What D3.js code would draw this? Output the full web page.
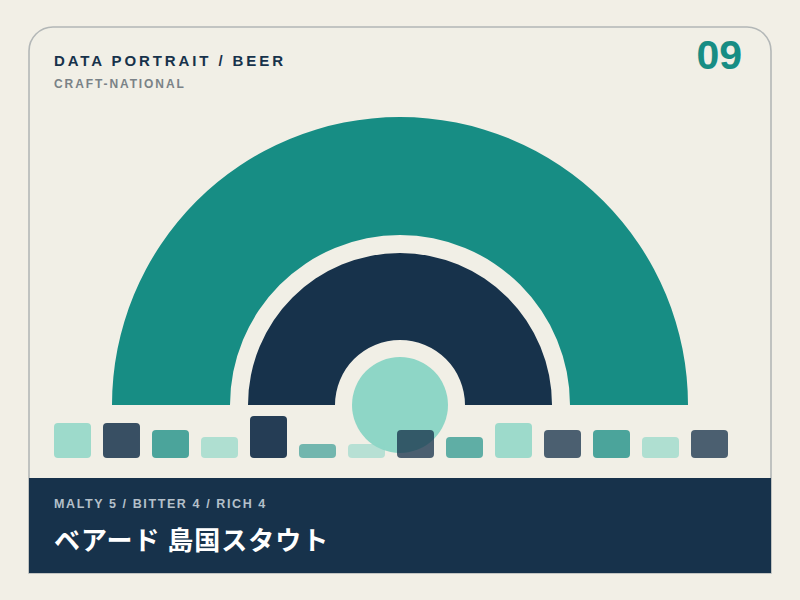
<!DOCTYPE html>
<html>
<head>
<meta charset="utf-8">
<script src="https://cdn.jsdelivr.net/npm/d3@7/dist/d3.min.js"></script>
<style>
  html, body { margin: 0; padding: 0; background: #f2efe6; }
  svg { display: block; }
</style>
</head>
<body>
<svg id="chart" width="800" height="600"></svg>
<script>
// ---- data ----
const titleText = "DATA PORTRAIT / BEER";
const categoryText = "CRAFT-NATIONAL";
const issueNumber = "09";
const attrNames = ["MALTY", "BITTER", "RICH"];
const attrValues = [5, 4, 4];
const beerName = "ベアード 島国スタウト";
const barValues = [5, 5, 4, 3, 6, 2, 2, 4, 3, 5, 4, 4, 3, 4];

// ---- palette / layout ----
const cream = "#f2efe6";
const navy = "#17324b";
const teal = "#178d84";
const mint = "#8ed6c6";
const barPalette = [mint, navy, teal];

const W = 800, H = 600;
const svg = d3.select("#chart");
svg.append("rect").attr("width", W).attr("height", H).attr("fill", cream);

// card
const card = { x: 29, y: 27, w: 742, h: 546, r: 24 };
const cardPath = d3.path();
cardPath.moveTo(card.x, card.y + card.h);
cardPath.lineTo(card.x, card.y + card.r);
cardPath.arcTo(card.x, card.y, card.x + card.r, card.y, card.r);
cardPath.lineTo(card.x + card.w - card.r, card.y);
cardPath.arcTo(card.x + card.w, card.y, card.x + card.w, card.y + card.r, card.r);
cardPath.lineTo(card.x + card.w, card.y + card.h);
cardPath.closePath();
svg.append("path").attr("d", cardPath.toString())
  .attr("fill", "#f1efe6").attr("stroke", "#b3b7b7").attr("stroke-width", 1.6);

// header text
svg.append("text").attr("x", 54).attr("y", 65.5)
  .attr("font-family", "'Liberation Sans', Arial, sans-serif")
  .attr("font-weight", 700).attr("font-size", 15).attr("letter-spacing", 2.9)
  .attr("fill", navy).text(titleText);
svg.append("text").attr("x", 54).attr("y", 88)
  .attr("font-family", "'Liberation Sans', Arial, sans-serif")
  .attr("font-weight", 700).attr("font-size", 12).attr("letter-spacing", 1.9)
  .attr("fill", "#7a8287").text(categoryText);
svg.append("text").attr("x", 742).attr("y", 69)
  .attr("text-anchor", "end")
  .attr("font-family", "'Liberation Sans', Arial, sans-serif")
  .attr("font-weight", 700).attr("font-size", 41)
  .attr("fill", teal).text(issueNumber);

// ---- portrait: concentric half rings ----
const cx = 400, baseY = 405;
const g = svg.append("g").attr("transform", `translate(${cx},${baseY})`);
const rings = [
  { name: attrNames[0], value: attrValues[0], inner: 170, outer: 288, color: teal },
  { name: attrNames[1], value: attrValues[1], inner: 65, outer: 152, color: navy }
];
const arc = d3.arc()
  .innerRadius(d => d.inner)
  .outerRadius(d => d.outer)
  .startAngle(-Math.PI / 2)
  .endAngle(Math.PI / 2);
g.selectAll("path.ring").data(rings).join("path")
  .attr("class", "ring").attr("d", arc).attr("fill", d => d.color);
g.append("circle").attr("r", 48).attr("fill", mint);

// ---- bars ----
const x = d3.scaleBand()
  .domain(d3.range(barValues.length))
  .range([54, 728])
  .paddingInner(0.245).paddingOuter(0);
const y = d3.scaleLinear().domain([0, 6]).range([458, 416]);
const opacity = d3.scaleLinear().domain([0, 6]).range([0.4, 0.94]);

svg.append("g").selectAll("rect").data(barValues).join("rect")
  .attr("x", (d, i) => x(i))
  .attr("y", d => y(d))
  .attr("width", x.bandwidth())
  .attr("height", d => y(0) - y(d))
  .attr("rx", 4).attr("ry", 4)
  .attr("fill", (d, i) => barPalette[i % barPalette.length])
  .attr("fill-opacity", d => opacity(d));

// ---- bottom band ----
svg.append("rect").attr("x", 29).attr("y", 478).attr("width", 742).attr("height", 95)
  .attr("fill", navy);
svg.append("text").attr("x", 54).attr("y", 508)
  .attr("font-family", "'Liberation Sans', Arial, sans-serif")
  .attr("font-weight", 700).attr("font-size", 12.5).attr("letter-spacing", 1.6)
  .attr("fill", "#b4c0ca")
  .text(attrNames.map((n, i) => `${n} ${attrValues[i]}`).join(" / "));
svg.append("text").attr("x", 54).attr("y", 550)
  .attr("font-family", "'Noto Sans CJK JP', 'Noto Sans CJK SC', sans-serif")
  .attr("font-weight", 700).attr("font-size", 26).attr("letter-spacing", 1)
  .attr("fill", "#ffffff").text(beerName);
</script>
</body>
</html>
